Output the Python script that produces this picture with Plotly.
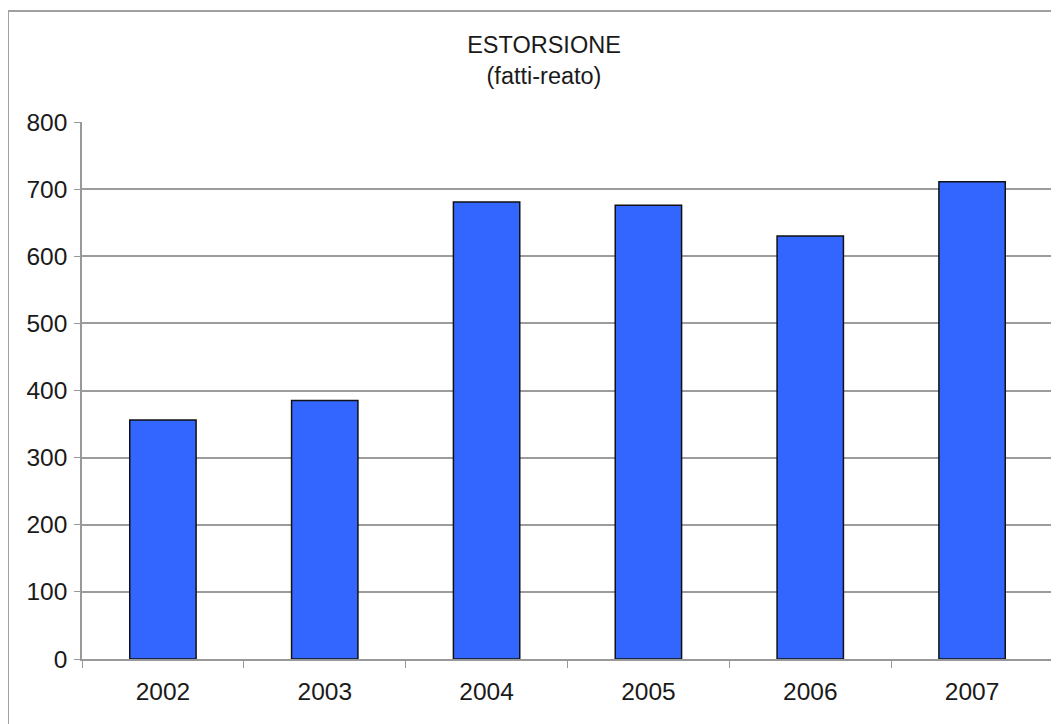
import plotly.graph_objects as go

years = ["2002", "2003", "2004", "2005", "2006", "2007"]
values = [356, 385, 681, 676, 630, 711]
y_ticks = [0, 100, 200, 300, 400, 500, 600, 700, 800]

# page has an 8px body margin, so the figure is placed at (8, 8)
W, H = 1051, 716
L, R, T, B = 74, 6, 114, 65
pw, ph = W - L - R, H - T - B

fig = go.Figure()
fig.add_trace(go.Bar(
    x=years, y=values,
    marker=dict(color="#3366FF", line=dict(color="#111111", width=1.5)),
    width=0.41,
    hoverinfo="x+y",
))

fig.update_layout(
    width=W, height=H,
    margin=dict(l=L, r=R, t=T, b=B),
    paper_bgcolor="white", plot_bgcolor="white",
    showlegend=False,
    font=dict(family="Liberation Sans, Arial, sans-serif", size=24, color="#1a1a1a"),
    title=dict(
        text="ESTORSIONE<br>(fatti-reato)",
        x=536 / W, xanchor="center",
        y=1 - 45 / H, yanchor="top",
        font=dict(size=23.5, color="#1a1a1a"),
    ),
    xaxis=dict(
        type="category",
        showgrid=False,
        showline=True, linecolor="#999999", linewidth=1.5,
        ticks="outside", tickson="boundaries", ticklen=7, tickcolor="#999999",
        tickfont=dict(size=24.5),
        ticklabelstandoff=10,
        zeroline=False,
    ),
    yaxis=dict(
        range=[0, 800],
        tickvals=y_ticks,
        showgrid=True, gridcolor="#9c9c9c", gridwidth=1.5,
        showline=True, linecolor="#999999", linewidth=1.5,
        ticks="outside", ticklen=6, tickcolor="#999999",
        tickfont=dict(size=24.5),
        ticklabelstandoff=2,
        zeroline=False,
    ),
    shapes=[dict(
        type="rect", xref="paper", yref="paper",
        x0=(0 - L) / pw, x1=(W + 5 - L) / pw,
        y0=(H - B - (H + 5)) / ph, y1=(H - B - 3) / ph,
        line=dict(color="#a0a0a0", width=2), fillcolor="rgba(0,0,0,0)",
        layer="below",
    )],
)

fig.write_html("out.html")
